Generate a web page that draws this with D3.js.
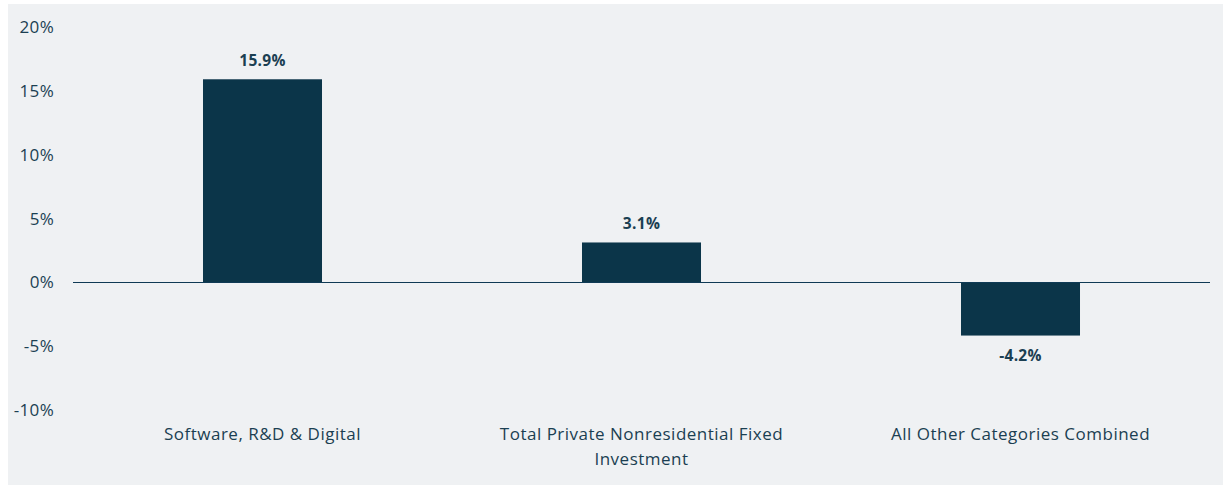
<!DOCTYPE html>
<html><head><meta charset="utf-8">
<script src="https://cdn.jsdelivr.net/npm/d3@7"></script>
<style>
body{margin:0;background:#ffffff;}
text{font-family:"Open Sans",Lato,sans-serif;}
</style></head>
<body><svg id="chart" width="1230" height="485"></svg>
<script>
const categories = ["Software, R&D & Digital", "Total Private Nonresidential Fixed Investment", "All Other Categories Combined"];
const values = [15.9, 3.1, -4.2];
const yTicks = [20, 15, 10, 5, 0, -5, -10];

const svg = d3.select("#chart");
svg.append("rect").attr("x", 8).attr("y", 4).attr("width", 1215).attr("height", 481).attr("fill", "#eff1f3");

const x = d3.scaleBand().domain(categories).range([73, 1210]).paddingInner(0.686).paddingOuter(0.343);
const y = d3.scaleLinear().domain([-10, 20]).range([409.5, 27]);

const textColor = "#1b3f52", barColor = "#0b3549";

const yAxis = svg.append("g").attr("transform", "translate(54,0)")
  .call(d3.axisLeft(y).tickValues(yTicks).tickSize(0).tickPadding(0).tickFormat(d => d + "%"));
yAxis.select(".domain").remove();
yAxis.selectAll("text").attr("fill", textColor).attr("font-size", 17).attr("letter-spacing", 0.3).attr("dy", "0.35em");

svg.append("g").selectAll("rect").data(values).join("rect")
  .attr("x", (d, i) => x(categories[i]))
  .attr("width", x.bandwidth())
  .attr("y", d => y(Math.max(0, d)))
  .attr("height", d => Math.abs(y(d) - y(0)))
  .attr("fill", barColor);

const zy = Math.round(y(0)) + 0.5;
svg.append("line").attr("x1", 73).attr("x2", 1210).attr("y1", zy).attr("y2", zy)
  .attr("stroke", "#0f3a55").attr("stroke-width", 1);

svg.append("g").selectAll("text").data(values).join("text")
  .attr("x", (d, i) => x(categories[i]) + x.bandwidth() / 2)
  .attr("y", d => d >= 0 ? y(d) - 13 : y(d) + 25)
  .attr("text-anchor", "middle").attr("font-size", 15.5).attr("font-weight", 700).attr("letter-spacing", 0.3)
  .attr("fill", textColor).text(d => d.toFixed(1) + "%");

const xAxis = svg.append("g").attr("transform", "translate(0,410)")
  .call(d3.axisBottom(x).tickSize(0).tickPadding(0));
xAxis.select(".domain").remove();
xAxis.selectAll("text").attr("fill", textColor).attr("font-size", 17).attr("letter-spacing", 0.5).attr("dy", null)
  .each(function(d) {
    const t = d3.select(this);
    t.text(null);
    const lines = d === categories[1] ? ["Total Private Nonresidential Fixed", "Investment"] : [d];
    lines.forEach((l, i) => t.append("tspan").attr("x", 0).attr("y", 30 + i * 25).text(l));
  });
</script></body></html>
